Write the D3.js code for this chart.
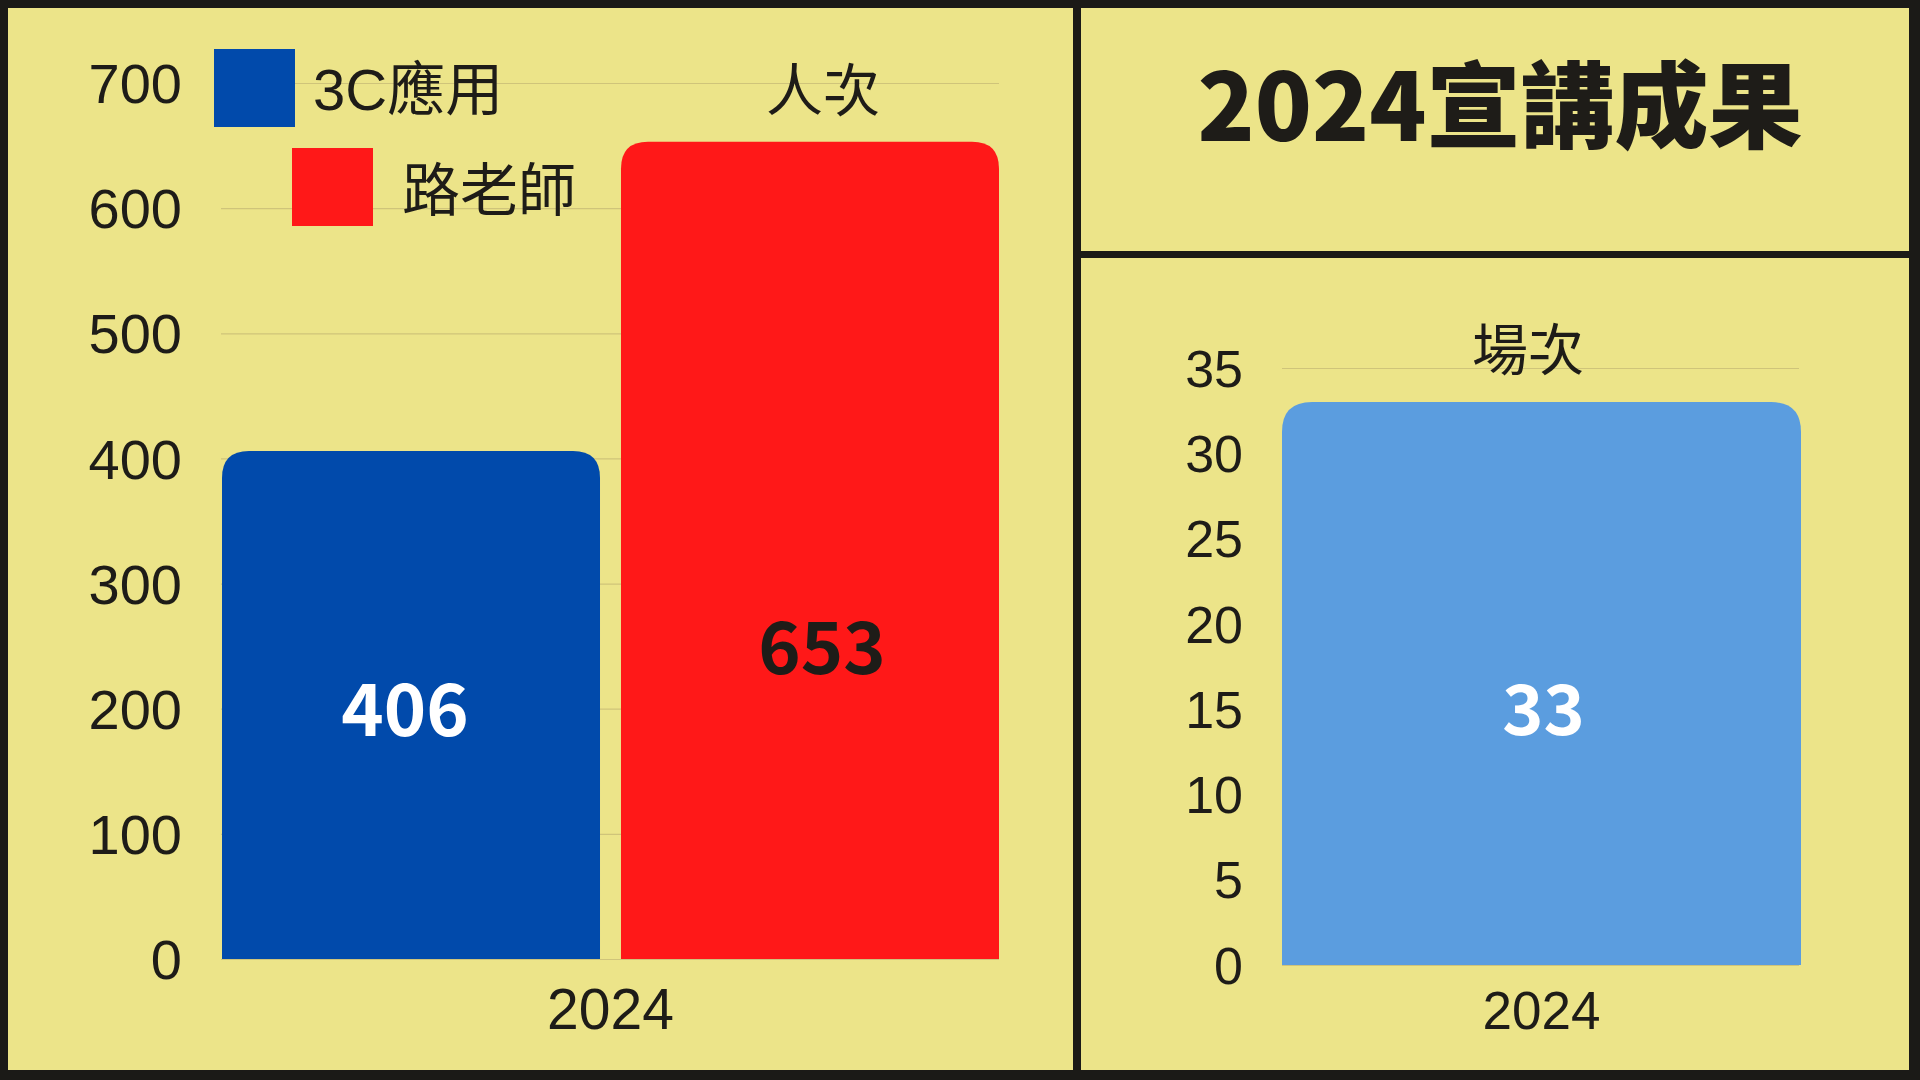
<!DOCTYPE html>
<html>
<head>
<meta charset="utf-8">
<script src="https://cdn.jsdelivr.net/npm/d3@7"></script>
<style>
  html, body { margin: 0; padding: 0; background: #1b1a17; }
  svg { display: block; }
</style>
</head>
<body>
<div id="grafica"></div>
<script>
// datos
const years = ["2024"];
const series = ["3C應用", "路老師"];
const personValues = [406, 653];   // 人次
const sessionValues = [33];        // 場次
const personTicks = [0, 100, 200, 300, 400, 500, 600, 700];
const sessionTicks = [0, 5, 10, 15, 20, 25, 30, 35];

// colores
const colorBg = "#ece489";
const colorFrame = "#1b1a17";
const colorText = "#1e1c18";
const colorGrid = "#cfc47a";
const barColors = ["#014aab", "#ff1818"];
const sessionColor = "#5b9ddf";
const labelColors = ["#ffffff", "#1e1c18"];

const W = 1920, H = 1080;
const latin = "'Liberation Sans', 'Noto Sans CJK TC', sans-serif";
const cjk = "'Noto Sans CJK TC', 'Noto Sans', sans-serif";

// posicion vertical de las etiquetas de valor (fraccion del valor)
const labelFrac = [0.49, 0.38];
const sessionLabelFrac = 0.453;

const svg = d3.select("#grafica").append("svg")
  .attr("width", W)
  .attr("height", H);

// marco y paneles
svg.append("rect").attr("width", W).attr("height", H).attr("fill", colorFrame);
svg.append("rect").attr("x", 8).attr("y", 8).attr("width", 1065).attr("height", 1062).attr("fill", colorBg);
svg.append("rect").attr("x", 1081).attr("y", 8).attr("width", 828).attr("height", 243).attr("fill", colorBg);
svg.append("rect").attr("x", 1081).attr("y", 258).attr("width", 828).attr("height", 812).attr("fill", colorBg);

// barra con esquinas superiores redondeadas
function topRounded(x, y, w, h, r) {
  r = Math.min(r, w / 2, h);
  return `M${x},${y + h}V${y + r}Q${x},${y} ${x + r},${y}H${x + w - r}Q${x + w},${y} ${x + w},${y + r}V${y + h}Z`;
}

// ---------- grafica izquierda: 人次 ----------
const left = { x0: 222, x1: 999, y0: 959, y1: 83 };

const yL = d3.scaleLinear().domain([0, 700]).range([left.y0, left.y1]);
const xL = d3.scaleBand().domain(series).range([left.x0, left.x1]).paddingInner(0.0526).paddingOuter(0);
const xYearL = d3.scaleBand().domain(years).range([left.x0, left.x1]);

const gL = svg.append("g");

// lineas de cuadricula
gL.append("g")
  .attr("transform", `translate(${left.x0 - 1},0)`)
  .call(d3.axisLeft(yL).tickValues(personTicks).tickSize(-(left.x1 - left.x0 + 1)).tickFormat(""))
  .call(g => g.select(".domain").remove())
  .call(g => g.selectAll(".tick line").attr("stroke", colorGrid).attr("stroke-width", 1.2));

// eje Y
gL.append("g")
  .attr("transform", `translate(${left.x0 - 1},0)`)
  .call(d3.axisLeft(yL).tickValues(personTicks).tickSize(0).tickPadding(39))
  .call(g => g.select(".domain").remove())
  .call(g => g.selectAll("text")
    .attr("fill", colorText).attr("font-family", latin).attr("font-size", 56).attr("dy", "0.35em"));

// eje X
gL.append("g")
  .attr("transform", `translate(0,${left.y0})`)
  .call(d3.axisBottom(xYearL).tickSize(0))
  .call(g => g.select(".domain").remove())
  .call(g => g.selectAll("text")
    .attr("y", 49).attr("dy", "0.36em")
    .attr("fill", colorText).attr("font-family", latin).attr("font-size", 57));

// barras
gL.selectAll(".bar")
  .data(personValues).enter()
  .append("path")
  .attr("class", "bar")
  .attr("d", (d, i) => topRounded(xL(series[i]), yL(d), xL.bandwidth(), yL(0) - yL(d), 27))
  .attr("fill", (d, i) => barColors[i]);

// etiquetas de valor
gL.selectAll(".valor")
  .data(personValues).enter()
  .append("text")
  .attr("class", "valor")
  .attr("x", (d, i) => xL(series[i]) + xL.bandwidth() / 2 + (i === 1 ? 12 : -6))
  .attr("y", (d, i) => yL(d * labelFrac[i]))
  .attr("dy", "0.36em")
  .attr("text-anchor", "middle")
  .attr("font-family", cjk)
  .attr("font-weight", 700)
  .attr("font-size", 72)
  .attr("fill", (d, i) => labelColors[i])
  .text(d => d);

// titulo 人次
gL.append("text")
  .attr("x", xL(series[1]) + xL.bandwidth() / 2 + 13)
  .attr("y", 90)
  .attr("dy", "0.36em")
  .attr("text-anchor", "middle")
  .attr("font-family", cjk)
  .attr("font-size", 57)
  .attr("fill", colorText)
  .text("人次");

// leyenda
const legendPos = [{ x: 214, y: 49, tx: 313, ty: 89 }, { x: 292, y: 148, tx: 402, ty: 190 }];
const legend = gL.selectAll(".leyenda")
  .data(series).enter()
  .append("g")
  .attr("class", "leyenda");

legend.append("rect")
  .attr("x", (d, i) => legendPos[i].x)
  .attr("y", (d, i) => legendPos[i].y)
  .attr("width", 81)
  .attr("height", 78)
  .attr("fill", (d, i) => barColors[i]);

legend.append("text")
  .attr("x", (d, i) => legendPos[i].tx)
  .attr("y", (d, i) => legendPos[i].ty)
  .attr("dy", "0.36em")
  .attr("font-family", latin)
  .attr("font-size", 58)
  .attr("fill", colorText)
  .text(d => d);

// ---------- panel derecho ----------
svg.append("text")
  .attr("x", 1500)
  .attr("y", 107)
  .attr("dy", "0.36em")
  .attr("text-anchor", "middle")
  .attr("font-family", cjk)
  .attr("font-weight", 900)
  .attr("font-size", 94)
  .attr("fill", colorText)
  .text("2024宣講成果");

const right = { x0: 1282, x1: 1801, y0: 965, y1: 368 };
const yR = d3.scaleLinear().domain([0, 35]).range([right.y0, right.y1]);
const xR = d3.scaleBand().domain(years).range([right.x0, right.x1]);

const gR = svg.append("g");

gR.append("g")
  .attr("transform", `translate(${right.x0},0)`)
  .call(d3.axisLeft(yR).tickValues(sessionTicks).tickSize(-(right.x1 - right.x0 - 2)).tickFormat(""))
  .call(g => g.select(".domain").remove())
  .call(g => g.selectAll(".tick line").attr("stroke", colorGrid).attr("stroke-width", 1.2));

gR.append("g")
  .attr("transform", `translate(${right.x0},0)`)
  .call(d3.axisLeft(yR).tickValues(sessionTicks).tickSize(0).tickPadding(39))
  .call(g => g.select(".domain").remove())
  .call(g => g.selectAll("text")
    .attr("fill", colorText).attr("font-family", latin).attr("font-size", 52).attr("dy", "0.35em"));

gR.append("g")
  .attr("transform", `translate(0,${right.y0})`)
  .call(d3.axisBottom(xR).tickSize(0))
  .call(g => g.select(".domain").remove())
  .call(g => g.selectAll("text")
    .attr("y", 45).attr("dy", "0.36em")
    .attr("fill", colorText).attr("font-family", latin).attr("font-size", 53));

gR.selectAll(".bar")
  .data(sessionValues).enter()
  .append("path")
  .attr("class", "bar")
  .attr("d", (d, i) => topRounded(xR(years[i]), yR(d), xR.bandwidth(), yR(0) - yR(d), 30))
  .attr("fill", sessionColor);

gR.selectAll(".valor")
  .data(sessionValues).enter()
  .append("text")
  .attr("class", "valor")
  .attr("x", (d, i) => xR(years[i]) + xR.bandwidth() / 2 + 2)
  .attr("y", d => yR(d * sessionLabelFrac))
  .attr("dy", "0.36em")
  .attr("text-anchor", "middle")
  .attr("font-family", cjk)
  .attr("font-weight", 700)
  .attr("font-size", 70)
  .attr("fill", "#ffffff")
  .text(d => d);

gR.append("text")
  .attr("x", 1528)
  .attr("y", 350)
  .attr("dy", "0.36em")
  .attr("text-anchor", "middle")
  .attr("font-family", cjk)
  .attr("font-size", 56)
  .attr("fill", colorText)
  .text("場次");
</script>
</body>
</html>
